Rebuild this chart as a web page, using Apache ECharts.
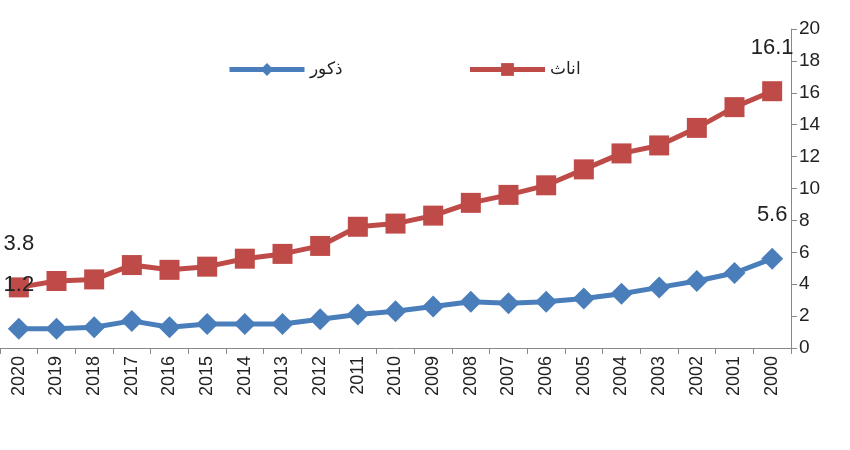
<!DOCTYPE html><html><head><meta charset="utf-8"><script src="https://cdn.jsdelivr.net/npm/echarts@6/dist/echarts.min.js"></script></head><body style="margin:0;background:#fff"><div id="c" style="width:850px;height:450px"></div><script>
const years=['2020','2019','2018','2017','2016','2015','2014','2013','2012','2011','2010','2009','2008','2007','2006','2005','2004','2003','2002','2001','2000'];
const males=[1.2,1.2,1.3,1.7,1.3,1.5,1.5,1.5,1.8,2.1,2.3,2.6,2.9,2.8,2.9,3.1,3.4,3.8,4.2,4.7,5.6];
const females=[3.8,4.2,4.3,5.2,4.9,5.1,5.6,5.9,6.4,7.6,7.8,8.3,9.1,9.6,10.2,11.2,12.2,12.7,13.8,15.1,16.1];
const yTicks=[0,2,4,6,8,10,12,14,16,18,20];
const lbl=(n)=>({show:true,position:'top',distance:22,fontSize:22,color:'#222',fontFamily:'Liberation Sans',
 formatter:p=>(p.dataIndex===0||p.dataIndex===n-1)?p.value:''});
echarts.init(document.getElementById('c')).setOption({
 animation:false,
 legend:{top:56,left:222,itemGap:125,itemWidth:75,itemHeight:16,textStyle:{fontSize:17,color:'#222'},lineStyle:{width:5},data:['ذكور','اناث']},
 grid:{left:-2,right:59,top:29,bottom:102},
 xAxis:{type:'category',data:years,boundaryGap:true,axisLine:{lineStyle:{color:'#888'}},axisTick:{show:true,length:6,lineStyle:{color:'#888'}},
  axisLabel:{rotate:90,fontSize:18,color:'#222',fontFamily:'Liberation Sans'}},
 yAxis:{type:'value',position:'right',min:0,max:20,interval:2,splitLine:{show:false},axisLine:{show:true,lineStyle:{color:'#888'}},
  axisTick:{show:true,length:6,inside:false,lineStyle:{color:'#888'}},axisLabel:{fontSize:19,color:'#222',fontFamily:'Liberation Sans',formatter:v=>yTicks.includes(v)?v:''}},
 series:[
  {name:'ذكور',type:'line',data:males,symbol:'diamond',symbolSize:22,itemStyle:{color:'#4a7ebb'},lineStyle:{width:5,color:'#4a7ebb'},label:lbl(males.length)},
  {name:'اناث',type:'line',data:females,symbol:'rect',symbolSize:20,itemStyle:{color:'#be4b48'},lineStyle:{width:5,color:'#be4b48'},label:lbl(females.length)}
 ]});
</script></body></html>
